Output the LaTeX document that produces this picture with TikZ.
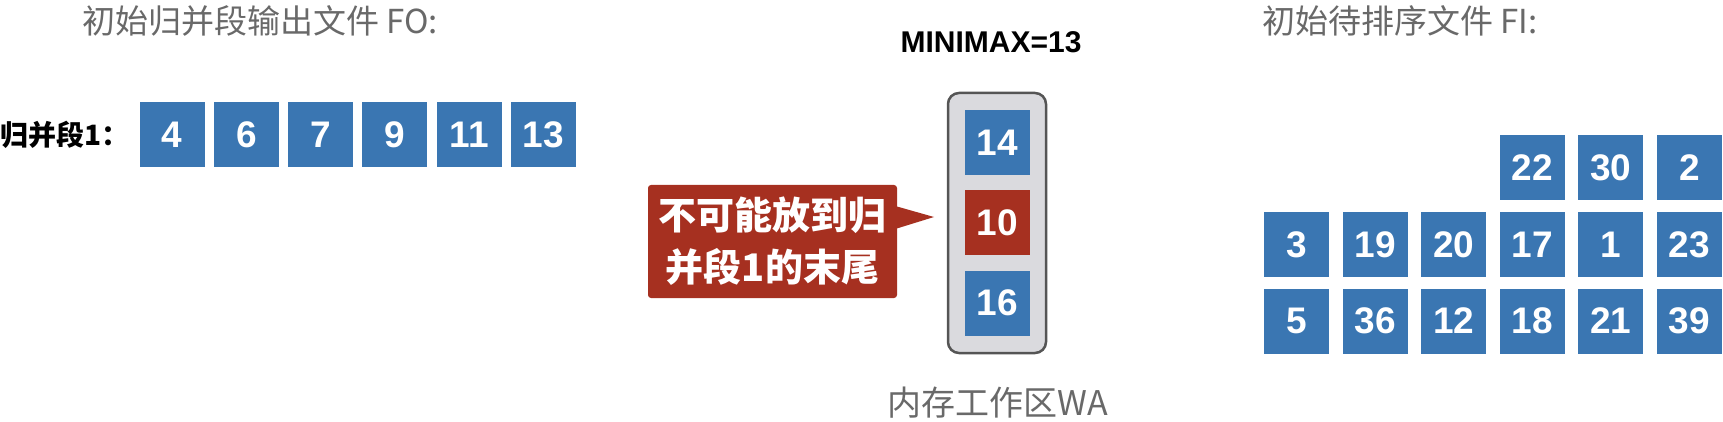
\documentclass[tikz,border=0pt]{standalone}
\usepackage{fontspec}
\setmainfont{Liberation Sans}
\newfontfamily\cjk{Noto Sans CJK SC}
\usetikzlibrary{calc}
\definecolor{blueC}{RGB}{58,118,178}
\definecolor{redC}{RGB}{166,48,32}
\definecolor{grayT}{RGB}{105,105,105}
\definecolor{waFill}{RGB}{218,218,222}
\definecolor{waLine}{RGB}{85,85,85}
\tikzset{
  cell/.style={fill=blueC, minimum width=65pt, minimum height=65pt, inner sep=0pt,
    text=white, font=\fontsize{37}{37}\selectfont\bfseries},
  redcell/.style={cell, fill=redC},
  title/.style={inner sep=0pt, text=grayT, font=\cjk\fontsize{33}{36}\selectfont},
}
\begin{document}
\begin{tikzpicture}[x=1pt,y=-1pt]
\useasboundingbox (0,0) rectangle (1723,422);
% titles
\node[title, anchor=west] (t1) at (82,21) {初始归并段输出文件 FO:};
\node[title, anchor=west] (t2) at (1262,21) {初始待排序文件 FI:};
\node[inner sep=0pt, font=\fontsize{30}{32}\selectfont\bfseries] (mm) at (991,42) {MINIMAX=13};
% run 1
\node[inner sep=0pt, anchor=west, font=\cjk\fontsize{28}{30}\selectfont\bfseries] (r1) at (0,135) {归并段1：};
\foreach \v [count=\i from 0] in {4,6,7,9,11,13}
  \node[cell] (a\i) at ({172+74.3*\i},134.5) {\v};
% work area
\node[draw=waLine, line width=2.5pt, fill=waFill, rounded corners=11pt,
  minimum width=98pt, minimum height=260pt, inner sep=0pt] (wa) at (997,223) {};
\node[cell] (w1) at (997.5,143) {14};
\node[redcell] (w2) at (997.5,222.5) {10};
\node[cell] (w3) at (997.5,303) {16};
\node[title, font=\cjk\fontsize{34}{36}\selectfont] (wal) at (998,403) {内存工作区WA};
% callout
\node[fill=redC, rounded corners=3pt, minimum width=249pt, minimum height=113pt, inner sep=0pt,
  text=white, align=center, font=\cjk\fontsize{38}{52}\selectfont\bfseries] (co) at (772.5,241.5) {不可能放到归\\并段1的末尾};
\coordinate (tip) at (934,217);
\fill[redC] ($(co.east |- tip)+(-2,-11)$) -- (tip) -- ($(co.east |- tip)+(-2,12)$) -- cycle;
% input file
\foreach \v [count=\i from 3] in {22,30,2}
  \node[cell] (b\i) at ({1296.5+78.6*\i},167.5) {\v};
\foreach \v [count=\i from 0] in {3,19,20,17,1,23}
  \node[cell] (c\i) at ({1296.5+78.6*\i},244.5) {\v};
\foreach \v [count=\i from 0] in {5,36,12,18,21,39}
  \node[cell] (d\i) at ({1296.5+78.6*\i},321) {\v};
\end{tikzpicture}
\end{document}
